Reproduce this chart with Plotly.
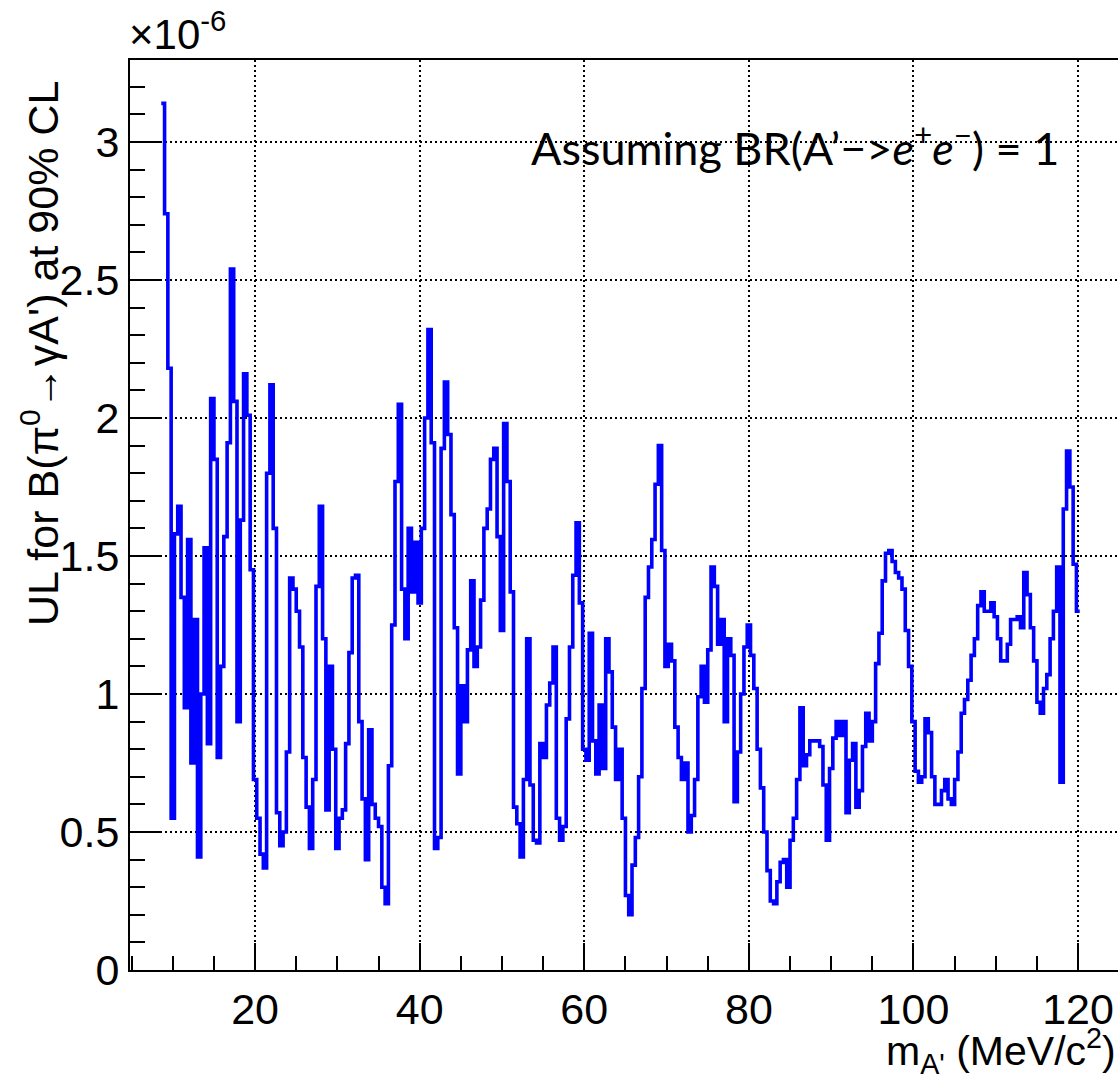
import plotly.graph_objects as go

# ---------------- data ----------------
# histogram binning of the A' mass scan (MeV/c^2)
first_bin_edge = 8.6
bin_width = 0.4
# upper limit on B(pi0 -> gamma A') at 90% CL, in units of 1e-6, one value per bin
ul_1e6 = [
    3.14, 2.74, 2.18, 0.55, 1.58, 1.68, 1.35, 0.95, 1.56, 0.75,
    1.27, 0.41, 1.00, 1.53, 0.82, 2.07, 1.85, 0.77, 1.10, 1.57,
    1.91, 2.54, 2.06, 0.90, 1.63, 2.16, 2.01, 1.45, 0.69, 0.55,
    0.42, 0.37, 1.80, 2.12, 1.60, 0.57, 0.45, 0.50, 0.79, 1.42,
    1.38, 1.30, 1.17, 0.77, 0.59, 0.44, 0.69, 1.39, 1.68, 1.20,
    0.58, 1.10, 0.80, 0.44, 0.55, 0.58, 0.82, 1.15, 1.42, 1.43,
    0.90, 0.62, 0.40, 0.87, 0.60, 0.55, 0.52, 0.30, 0.24, 0.74,
    1.25, 1.77, 2.05, 1.38, 1.20, 1.60, 1.37, 1.55, 1.33, 1.60,
    2.00, 2.32, 1.91, 0.44, 0.48, 1.89, 2.13, 1.94, 1.65, 1.24,
    0.71, 1.03, 0.90, 1.16, 1.41, 1.10, 1.17, 1.34, 1.60, 1.67,
    1.85, 1.89, 1.57, 1.23, 1.98, 1.77, 1.37, 0.59, 0.53, 0.41,
    0.69, 1.20, 0.67, 0.47, 0.46, 0.82, 0.77, 0.96, 1.04, 1.17,
    0.55, 0.47, 0.52, 0.91, 1.17, 1.43, 1.62, 1.33, 0.80, 0.76,
    1.22, 0.83, 0.71, 0.96, 0.73, 1.20, 1.08, 0.88, 0.69, 0.80,
    0.55, 0.27, 0.20, 0.38, 0.48, 0.70, 1.02, 1.35, 1.46, 1.56,
    1.76, 1.90, 1.52, 1.10, 1.18, 1.12, 0.88, 0.77, 0.69, 0.75,
    0.50, 0.56, 0.69, 0.99, 1.10, 0.97, 1.16, 1.46, 1.39, 1.18,
    1.27, 0.90, 1.20, 1.14, 0.61, 0.79, 1.00, 1.17, 1.25, 1.14,
    1.02, 0.80, 0.66, 0.50, 0.36, 0.25, 0.24, 0.32, 0.39, 0.40,
    0.30, 0.47, 0.55, 0.69, 0.95, 0.74, 0.78, 0.83, 0.83, 0.83,
    0.81, 0.67, 0.47, 0.73, 0.84, 0.90, 0.85, 0.90, 0.57, 0.76,
    0.82, 0.59, 0.65, 0.81, 0.93, 0.83, 0.90, 1.11, 1.22, 1.41,
    1.51, 1.52, 1.48, 1.44, 1.42, 1.38, 1.23, 1.10, 0.90, 0.72,
    0.68, 0.70, 0.91, 0.86, 0.70, 0.60, 0.60, 0.65, 0.69, 0.62,
    0.60, 0.69, 0.79, 0.93, 0.98, 1.05, 1.14, 1.20, 1.32, 1.37,
    1.30, 1.30, 1.33, 1.28, 1.20, 1.12, 1.12, 1.18, 1.27, 1.27,
    1.28, 1.24, 1.44, 1.36, 1.24, 1.12, 0.97, 0.93, 1.02, 1.07,
    1.20, 1.30, 1.46, 0.68, 1.67, 1.88, 1.75, 1.47, 1.30,
]

x_range = [4.8, 124.85]
y_range = [0, 3.297]

y_title = "UL for B(π<sup>0</sup>→γA') at 90% CL"
x_title = "m<sub>A'</sub> (MeV/c<sup>2</sup>)"
exponent_label = "×10<sup>-6</sup>"
note_text = "Assuming BR(A’−><i>e</i><sup>+</sup><i>e</i><sup>−</sup>) = 1"

# ---------------- figure ----------------
W, H = 1118, 1077
ML, MR, MT, MB = 130, 0, 60, 107
PW, PH = W - ML - MR, H - MT - MB


def px_to_paper_x(px):
    return (px - ML) / PW


def px_to_paper_y(py):
    return (H - MB - py) / PH


edges = [first_bin_edge + bin_width * k for k in range(len(ul_1e6) + 1)]
y_steps = ul_1e6 + [ul_1e6[-1]]

fig = go.Figure()
fig.add_trace(go.Scatter(
    x=edges, y=y_steps, mode="lines", line_shape="hv",
    line=dict(color="#0000ff", width=3.6), hoverinfo="skip", showlegend=False,
))

FONT = "Liberation Sans, Arial, Helvetica, sans-serif"

axis_common = dict(
    showline=True, linecolor="black", linewidth=2,
    ticks="inside", tickwidth=2, tickcolor="black",
    showgrid=True, gridcolor="black", gridwidth=1.6, griddash="2px,3px",
    zeroline=False, tickfont=dict(family=FONT, size=43, color="black"),
)

fig.update_layout(
    width=W, height=H,
    margin=dict(l=ML, r=MR, t=MT, b=MB),
    paper_bgcolor="white", plot_bgcolor="white",
    xaxis=dict(
        range=x_range, tick0=0, dtick=20, ticklen=27, mirror=True,
        minor=dict(tick0=0, dtick=5, ticks="inside", ticklen=14, tickwidth=2,
                   tickcolor="black", showgrid=False),
        **axis_common,
    ),
    yaxis=dict(
        range=y_range, tick0=0, dtick=0.5, ticklen=30, mirror=False,
        minor=dict(tick0=0, dtick=0.1, ticks="inside", ticklen=15, tickwidth=2,
                   tickcolor="black", showgrid=False),
        **axis_common,
    ),
    shapes=[dict(
        type="rect", xref="paper", yref="paper", layer="between",
        x0=px_to_paper_x(527), x1=px_to_paper_x(1080),
        y0=px_to_paper_y(182), y1=px_to_paper_y(115),
        fillcolor="white", line=dict(width=0),
    )],
    annotations=[
        dict(text=exponent_label, xref="paper", yref="paper",
             x=px_to_paper_x(127), y=px_to_paper_y(60), xanchor="left", yanchor="bottom",
             showarrow=False, font=dict(family=FONT, size=42, color="black")),
        dict(text=y_title, xref="paper", yref="paper", textangle=-90,
             x=px_to_paper_x(40), y=px_to_paper_y(354), xanchor="center", yanchor="middle",
             showarrow=False, font=dict(family=FONT, size=43, color="black")),
        dict(text=x_title, xref="paper", yref="paper",
             x=1.0, y=px_to_paper_y(1051), xanchor="right", yanchor="middle",
             showarrow=False, font=dict(family=FONT, size=41, color="black")),
        dict(text=note_text, xref="paper", yref="paper",
             x=px_to_paper_x(795), y=px_to_paper_y(145), xanchor="center", yanchor="middle",
             showarrow=False, font=dict(family="Lato, Carlito, Calibri, sans-serif", size=45, color="black")),
    ],
)

fig.write_html("out.html")
